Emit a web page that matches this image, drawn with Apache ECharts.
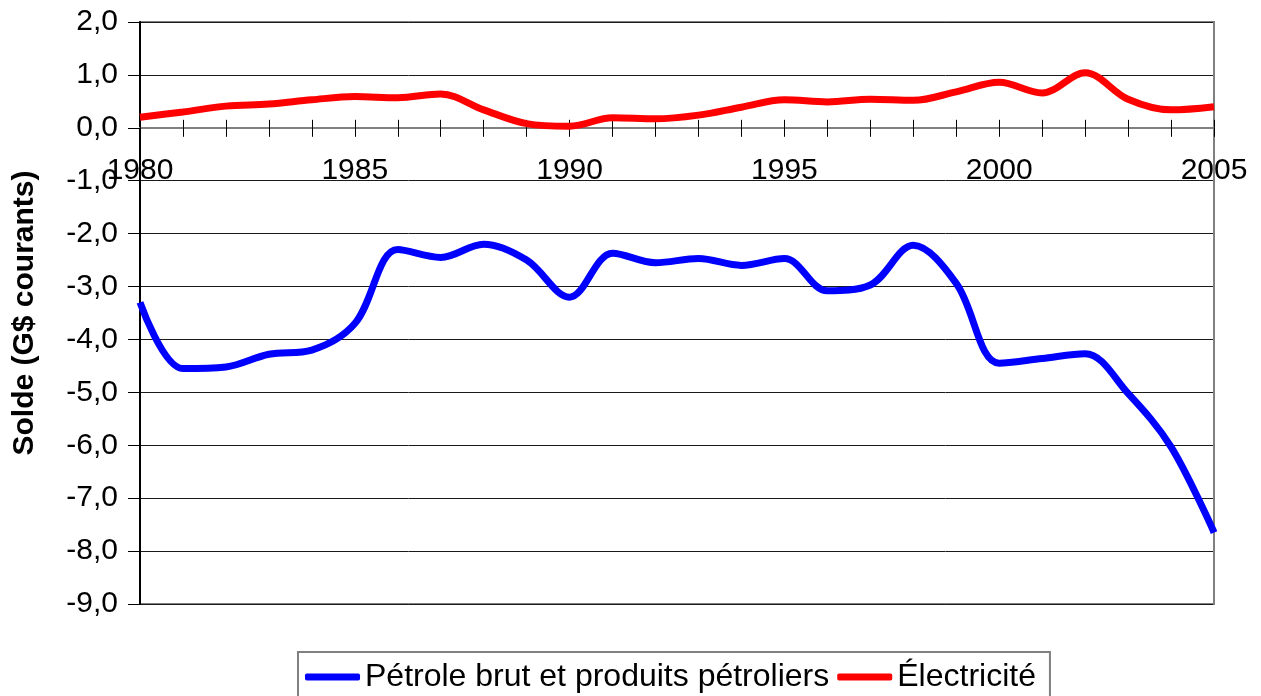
<!DOCTYPE html>
<html>
<head>
<meta charset="utf-8">
<script src="https://cdn.jsdelivr.net/npm/echarts@6/dist/echarts.min.js"></script>
<style>
html,body{margin:0;padding:0;background:#fff;}
#chart{width:1261px;height:696px;}
</style>
</head>
<body>
<div id="chart"></div>
<script>
const years = [1980,1981,1982,1983,1984,1985,1986,1987,1988,1989,1990,1991,1992,1993,1994,1995,1996,1997,1998,1999,2000,2001,2002,2003,2004,2005];
const petrole = [-3.3,-4.55,-4.52,-4.28,-4.2,-3.7,-2.3,-2.45,-2.2,-2.5,-3.2,-2.37,-2.55,-2.47,-2.6,-2.47,-3.08,-2.97,-2.22,-2.94,-4.45,-4.36,-4.27,-5.02,-6.03,-7.65];
const electricite = [0.2,0.3,0.41,0.45,0.53,0.59,0.57,0.64,0.34,0.08,0.03,0.19,0.17,0.24,0.39,0.53,0.49,0.54,0.52,0.68,0.86,0.66,1.04,0.54,0.34,0.4];
const seriesNames = ['Pétrole brut et produits pétroliers','Électricité'];
const yAxisTitle = 'Solde (G$ courants)';

const FONT = 'Liberation Sans, Arial, sans-serif';
const Y_MIN = -9, Y_MAX = 2;
const GRID = {left:140,right:47,top:22,bottom:92};
const plotH = 696 - GRID.top - GRID.bottom;
const zeroOffset = -plotH * (0 - Y_MIN) / (Y_MAX - Y_MIN);

const chart = echarts.init(document.getElementById('chart'));
const pair = (arr) => years.map((y,i)=>[y,arr[i]]);
chart.setOption({
  animation:false,
  backgroundColor:'#fff',
  textStyle:{fontFamily:FONT},
  grid:Object.assign({show:true,borderColor:'#808080',borderWidth:2,backgroundColor:'transparent',outerBoundsMode:'none',containLabel:false},GRID),
  legend:{
    top:652,left:298,
    icon:'roundRect',
    itemWidth:55,itemHeight:7,itemGap:8,
    padding:[9,14,10,7],
    borderColor:'#808080',borderWidth:2,
    textStyle:{fontSize:32,color:'#000',fontFamily:FONT},
    data:seriesNames
  },
  xAxis:[{
    type:'value',min:1980,max:2005,interval:1,position:'bottom',offset:zeroOffset,
    axisLine:{onZero:false,lineStyle:{color:'#808080',width:2}},
    axisTick:{show:true,length:9,lineStyle:{color:'#000',width:1}},
    axisLabel:{margin:28,fontSize:30,color:'#000',fontFamily:FONT,
      formatter:(v)=> (v%5===0 ? String(v) : '')},
    splitLine:{show:false}
  },{
    type:'value',min:1980,max:2005,interval:1,position:'bottom',offset:zeroOffset,
    axisLine:{onZero:false,lineStyle:{color:'#808080',width:2}},
    axisTick:{show:true,inside:true,length:8,lineStyle:{color:'#000',width:1}},
    axisLabel:{show:false},
    splitLine:{show:false}
  }],
  yAxis:[{
    type:'value',min:Y_MIN,max:Y_MAX,interval:1,
    name:yAxisTitle,nameLocation:'middle',nameGap:100,nameMoveOverlap:false,
    nameTextStyle:{fontSize:30,fontWeight:'bold',color:'#000',fontFamily:FONT},
    axisLine:{show:true,onZero:false,lineStyle:{color:'#000',width:2}},
    axisTick:{show:true,length:12,lineStyle:{color:'#000',width:1}},
    axisLabel:{margin:22,fontSize:30,color:'#000',fontFamily:FONT,
      formatter:(v)=>v.toFixed(1).replace('.',',')},
    splitLine:{show:true,lineStyle:{color:'#1a1a1a',width:1}}
  },{
    type:'value',min:Y_MIN,max:Y_MAX,interval:1,position:'right',
    axisLine:{show:true,onZero:false,lineStyle:{color:'#808080',width:2}},
    axisTick:{show:false},axisLabel:{show:false},splitLine:{show:false}
  }],
  series:[{
    name:seriesNames[0],type:'line',smooth:0.35,showSymbol:false,symbol:'none',
    data:pair(petrole),
    lineStyle:{color:'#0000ff',width:7},itemStyle:{color:'#0000ff'},
    z:5
  },{
    name:seriesNames[1],type:'line',smooth:0.35,showSymbol:false,symbol:'none',
    data:pair(electricite),
    lineStyle:{color:'#ff0000',width:7},itemStyle:{color:'#ff0000'},
    z:5
  }]
});
</script>
</body>
</html>
